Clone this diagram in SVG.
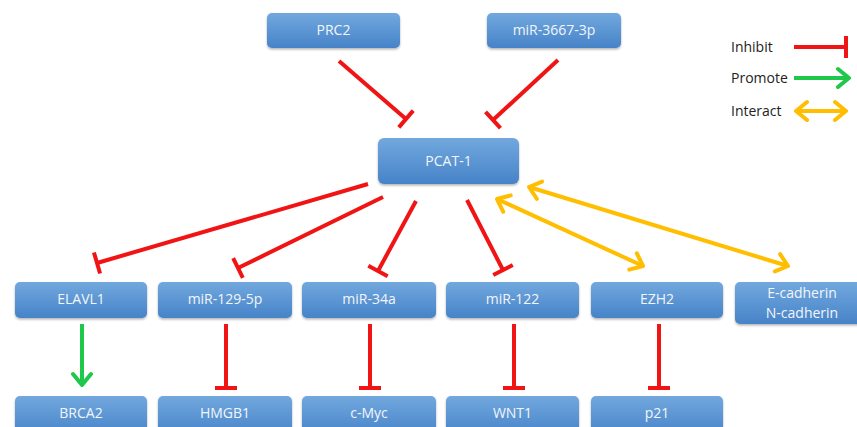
<svg xmlns="http://www.w3.org/2000/svg" width="857" height="427" viewBox="0 0 857 427">
<defs>
<linearGradient id="g" x1="0" y1="0" x2="0" y2="1">
<stop offset="0" stop-color="#72a8de"/>
<stop offset="1" stop-color="#4683c8"/>
</linearGradient>
<filter id="sh" x="-10%" y="-20%" width="120%" height="150%">
<feDropShadow dx="0" dy="1.5" stdDeviation="1.2" flood-color="#000" flood-opacity="0.3"/>
</filter>
<marker id="bar" viewBox="-3 -13 6 26" markerWidth="6" markerHeight="26" refX="0" refY="0" orient="auto" markerUnits="userSpaceOnUse">
<path d="M0,-11 L0,11" stroke="#f01414" stroke-width="4"/>
</marker>
<marker id="garr" viewBox="-14 -12 16 24" markerWidth="16" markerHeight="24" refX="0" refY="0" orient="auto" markerUnits="userSpaceOnUse">
<path d="M-11,-9 L0,0 L-11,9" fill="none" stroke="#1ec84a" stroke-width="4" stroke-linecap="round" stroke-linejoin="round"/>
</marker>
<marker id="oarr" viewBox="-14 -12 16 24" markerWidth="16" markerHeight="24" refX="0" refY="0" orient="auto-start-reverse" markerUnits="userSpaceOnUse">
<path d="M-11,-9 L0,0 L-11,9" fill="none" stroke="#ffbe00" stroke-width="4" stroke-linecap="round" stroke-linejoin="round"/>
</marker>
</defs>
<style>
.box{fill:url(#g);filter:url(#sh)}
.lbl{font-family:"Open Sans","Liberation Sans",sans-serif;font-size:14px;fill:#f2f6fb;text-anchor:middle}
.leg{font-family:"Open Sans","Liberation Sans",sans-serif;font-size:14px;fill:#222}
.inh{stroke:#f01414;stroke-width:4;fill:none;marker-end:url(#bar)}
.pro{stroke:#1ec84a;stroke-width:4;fill:none;marker-end:url(#garr)}
.int{stroke:#ffbe00;stroke-width:4;fill:none;marker-start:url(#oarr);marker-end:url(#oarr)}
</style>
<rect width="857" height="427" fill="#fff"/>

<g id="connectors">
<line class="inh" x1="339" y1="61" x2="406" y2="119"/>
<line class="inh" x1="558" y1="60" x2="493" y2="120"/>
<line class="inh" x1="368" y1="184" x2="97" y2="263"/>
<line class="inh" x1="383" y1="197" x2="238" y2="268"/>
<line class="inh" x1="416" y1="201" x2="378" y2="271"/>
<line class="inh" x1="467" y1="200" x2="503" y2="270"/>
<line class="int" x1="497" y1="199" x2="643" y2="266"/>
<line class="int" x1="529" y1="187" x2="788" y2="266"/>
<line class="pro" x1="82" y1="324" x2="82" y2="385"/>
<line class="inh" x1="226" y1="324" x2="226" y2="388"/>
<line class="inh" x1="370" y1="324" x2="370" y2="388"/>
<line class="inh" x1="514" y1="324" x2="514" y2="388"/>
<line class="inh" x1="659" y1="324" x2="659" y2="388"/>
</g>

<g id="legend">
<text class="leg" x="731" y="52">Inhibit</text>
<line class="inh" x1="794" y1="47" x2="846" y2="47"/>
<text class="leg" x="731" y="83">Promote</text>
<line class="pro" x1="794" y1="78" x2="849" y2="78"/>
<text class="leg" x="731" y="116">Interact</text>
<line class="int" x1="796" y1="111" x2="846" y2="111"/>
</g>

<g id="PRC2"><rect class="box" x="267" y="13" width="133" height="35" rx="5"/><text class="lbl" x="333.5" y="35">PRC2</text></g>
<g id="miR-3667-3p"><rect class="box" x="487" y="13" width="134" height="35" rx="5"/><text class="lbl" x="554" y="35">miR-3667-3p</text></g>
<g id="PCAT-1"><rect class="box" x="378" y="138" width="141" height="46" rx="6"/><text class="lbl" x="448.5" y="166">PCAT-1</text></g>

<g id="ELAVL1"><rect class="box" x="15" y="282" width="132" height="36" rx="5"/><text class="lbl" x="81" y="304">ELAVL1</text></g>
<g id="miR-129-5p"><rect class="box" x="158" y="282" width="134" height="36" rx="5"/><text class="lbl" x="225" y="304">miR-129-5p</text></g>
<g id="miR-34a"><rect class="box" x="302" y="282" width="134" height="36" rx="5"/><text class="lbl" x="369" y="304">miR-34a</text></g>
<g id="miR-122"><rect class="box" x="446" y="282" width="133" height="36" rx="5"/><text class="lbl" x="512.5" y="304">miR-122</text></g>
<g id="EZH2"><rect class="box" x="591" y="282" width="132" height="36" rx="5"/><text class="lbl" x="657" y="304">EZH2</text></g>
<g id="cadherin"><rect class="box" x="735" y="282" width="134" height="42" rx="5"/><text class="lbl" x="802" y="298">E-cadherin</text><text class="lbl" x="802" y="318">N-cadherin</text></g>

<g id="BRCA2"><rect class="box" x="15" y="396" width="132" height="40" rx="5"/><text class="lbl" x="81" y="418">BRCA2</text></g>
<g id="HMGB1"><rect class="box" x="158" y="396" width="134" height="40" rx="5"/><text class="lbl" x="225" y="418">HMGB1</text></g>
<g id="c-Myc"><rect class="box" x="302" y="396" width="134" height="40" rx="5"/><text class="lbl" x="369" y="418">c-Myc</text></g>
<g id="WNT1"><rect class="box" x="446" y="396" width="133" height="40" rx="5"/><text class="lbl" x="512.5" y="418">WNT1</text></g>
<g id="p21"><rect class="box" x="591" y="396" width="132" height="40" rx="5"/><text class="lbl" x="657" y="418">p21</text></g>
</svg>
